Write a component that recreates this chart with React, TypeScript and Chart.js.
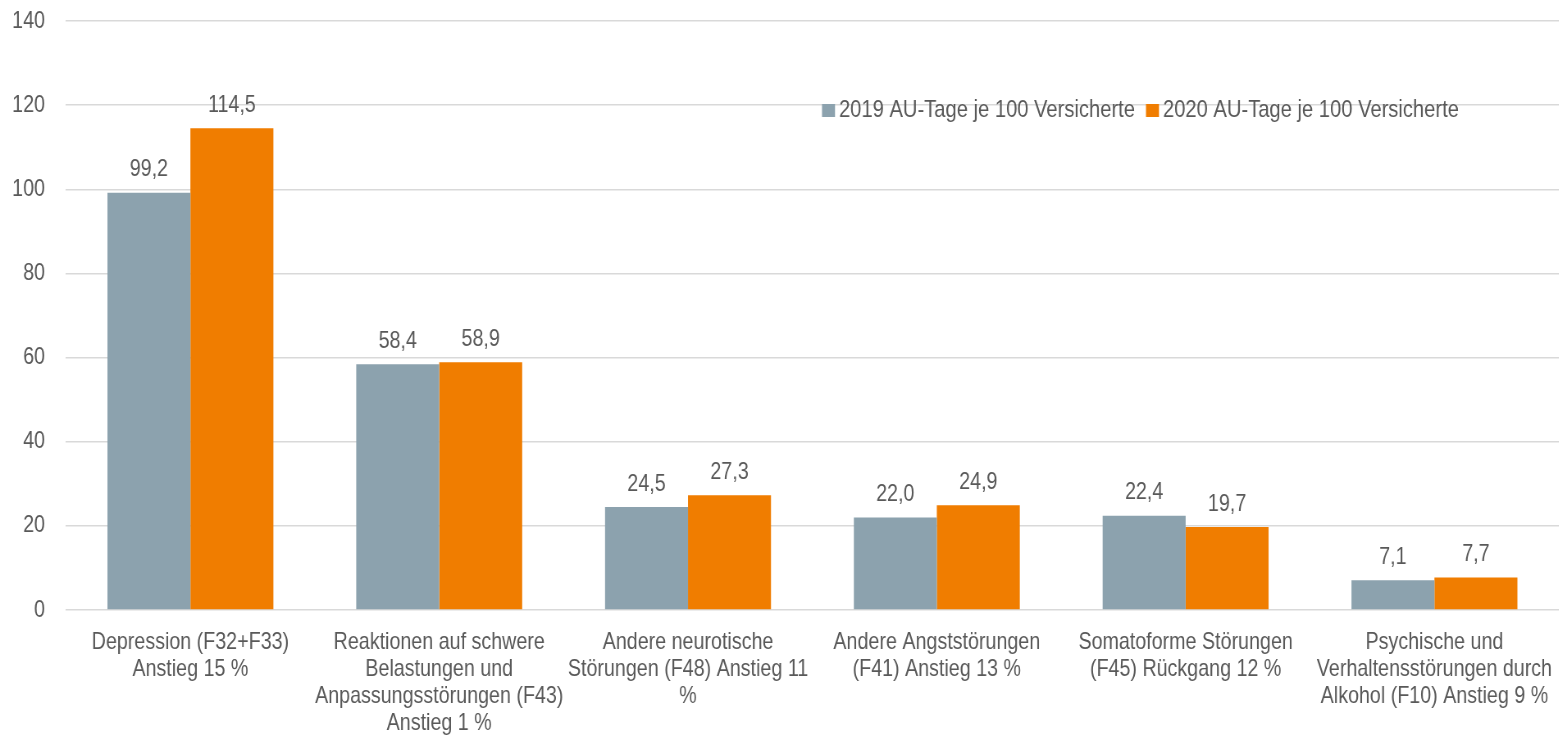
import React, { useEffect, useRef } from "react";
import { Chart, registerables } from "chart.js";

Chart.register(...registerables);

const categories: string[][] = [
  ["Depression (F32+F33)", "Anstieg 15 %"],
  ["Reaktionen auf schwere", "Belastungen und", "Anpassungsstörungen (F43)", "Anstieg 1 %"],
  ["Andere neurotische", "Störungen (F48) Anstieg 11", "%"],
  ["Andere Angststörungen", "(F41) Anstieg 13 %"],
  ["Somatoforme Störungen", "(F45) Rückgang 12 %"],
  ["Psychische und", "Verhaltensstörungen durch", "Alkohol (F10) Anstieg 9 %"],
];
const series2019: number[] = [99.2, 58.4, 24.5, 22.0, 22.4, 7.1];
const series2020: number[] = [114.5, 58.9, 27.3, 24.9, 19.7, 7.7];
const seriesNames: string[] = ["2019 AU-Tage je 100 Versicherte", "2020 AU-Tage je 100 Versicherte"];
const yTicks: number[] = [0, 20, 40, 60, 80, 100, 120, 140];

// No narrow font installed: draw on a wider canvas and compress horizontally.
const NARROW = 0.82;
const W = 1559;
const H = 736;
const LW = Math.round(W / NARROW);
const sx = (px: number) => px / NARROW;

const FONT_FAMILY = "'Liberation Sans', Arial, sans-serif";
const TEXT = "#595959";
const GRAY = "#8CA2AE";
const ORANGE = "#F07D00";
const GRID = "#D9D9D9";

const fmt = (v: number) => v.toFixed(1).replace(".", ",");

const valueLabels = {
  id: "valueLabels",
  afterDatasetsDraw(chart: any) {
    const ctx = chart.ctx;
    ctx.save();
    ctx.font = `24px ${FONT_FAMILY}`;
    ctx.fillStyle = TEXT;
    ctx.textAlign = "center";
    ctx.textBaseline = "middle";
    chart.data.datasets.forEach((ds: any, i: number) => {
      const meta = chart.getDatasetMeta(i);
      meta.data.forEach((el: any, j: number) => {
        ctx.fillText(fmt(ds.data[j]), el.x, el.y - 23);
      });
    });
    ctx.restore();
  },
};

const customLegend = {
  id: "customLegend",
  afterDraw(chart: any) {
    const ctx = chart.ctx;
    ctx.save();
    ctx.font = `24.6px ${FONT_FAMILY}`;
    ctx.textBaseline = "middle";
    ctx.textAlign = "left";
    const y = chart.chartArea.top + 89.5;
    let x = sx(822);
    chart.data.datasets.forEach((ds: any) => {
      ctx.fillStyle = ds.backgroundColor;
      ctx.fillRect(x, y - 6.5, sx(13), 13);
      x += sx(17);
      ctx.fillStyle = TEXT;
      ctx.fillText(ds.label, x, y);
      x += ctx.measureText(ds.label).width + sx(11);
    });
    ctx.restore();
  },
};

export default function App() {
  const ref = useRef<HTMLCanvasElement | null>(null);
  useEffect(() => {
    document.body.style.margin = "0";
    if (!ref.current) return;
    const chart = new Chart(ref.current, {
      type: "bar",
      data: {
        labels: categories,
        datasets: [
          { label: seriesNames[0], data: series2019, backgroundColor: GRAY },
          { label: seriesNames[1], data: series2020, backgroundColor: ORANGE },
        ],
      },
      options: {
        animation: false,
        responsive: false,
        devicePixelRatio: 1,
        layout: { padding: { top: 21, right: 0, left: 0, bottom: 0 } },
        datasets: { bar: { categoryPercentage: 0.667, barPercentage: 1.0 } },
        plugins: { legend: { display: false }, tooltip: { enabled: false } },
        scales: {
          x: {
            grid: { display: false },
            border: { display: false },
            ticks: {
              color: TEXT,
              font: { family: FONT_FAMILY, size: 24, lineHeight: 1.125 },
              padding: 11,
              maxRotation: 0,
              autoSkip: false,
            },
            afterFit(scale: any) {
              scale.height = 126;
              scale.paddingLeft = 0;
              scale.paddingRight = 0;
            },
          },
          y: {
            min: 0,
            max: 140,
            afterBuildTicks(scale: any) {
              scale.ticks = yTicks.map((v) => ({ value: v }));
            },
            grid: { color: GRID, lineWidth: 1.5, drawTicks: false },
            border: { display: false },
            ticks: {
              color: TEXT,
              font: { family: FONT_FAMILY, size: 24 },
              padding: sx(21),
            },
            afterFit(scale: any) {
              scale.width = sx(66);
              scale.paddingTop = 0;
              scale.paddingBottom = 0;
            },
          },
        },
      },
      plugins: [valueLabels, customLegend],
    });
    return () => chart.destroy();
  }, []);
  return (
    <div style={{ width: W, height: H, overflow: "hidden" }}>
      <div style={{ width: LW, height: H, transform: `scaleX(${NARROW})`, transformOrigin: "0 0" }}>
        <canvas ref={ref} width={LW} height={H} style={{ display: "block" }} />
      </div>
    </div>
  );
}
